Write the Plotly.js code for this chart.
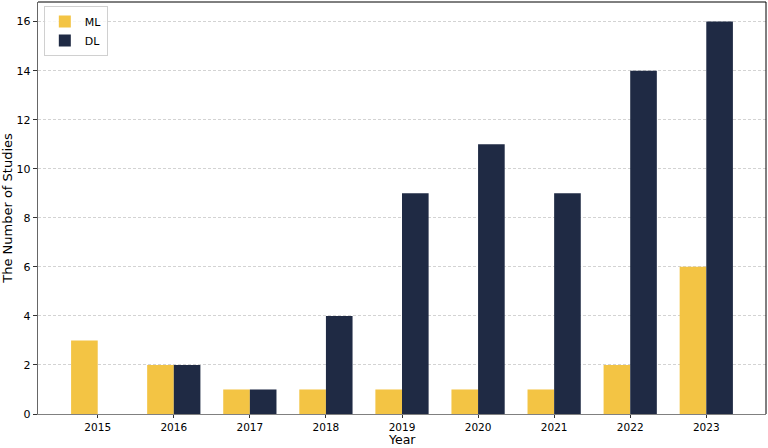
<!DOCTYPE html>
<html>
<head>
<meta charset="utf-8">
<script src="https://cdn.plot.ly/plotly-3.0.1.min.js"></script>
<style>html,body{margin:0;padding:0;background:#fff;}#chart{width:768px;height:448px;}</style>
</head>
<body>
<div id="chart"></div>
<script>
var years = [2015, 2016, 2017, 2018, 2019, 2020, 2021, 2022, 2023];
var mlValues = [3, 2, 1, 1, 1, 1, 1, 2, 6];
var dlValues = [0, 2, 1, 4, 9, 11, 9, 14, 16];
var seriesNames = ['ML', 'DL'];
var yTicks = [0, 2, 4, 6, 8, 10, 12, 14, 16];

var idx = years.map(function(_, i){ return i; });
var w = 0.35;
var traces = [
  {type:'bar', name:seriesNames[0], x: idx.map(function(i){return i - w/2;}), y: mlValues, width: w,
   marker:{color:'#F3C444', line:{width:0}}},
  {type:'bar', name:seriesNames[1], x: idx.map(function(i){return i + w/2;}), y: dlValues, width: w,
   marker:{color:'#1F2A44', line:{width:0}}}
];
var ff = 'DejaVu Sans, sans-serif';
var layout = {
  width:768, height:448,
  margin:{l:38, r:2, t:2, b:34},
  paper_bgcolor:'#fff', plot_bgcolor:'#fff',
  font: {family:ff, size:11, color:'#000'},
  barmode:'overlay',
  showlegend:true,
  legend:{x:0.008, y:0.99, xanchor:'left', yanchor:'top', bgcolor:'rgba(255,255,255,0.8)',
          bordercolor:'#d0d0d0', borderwidth:1, itemwidth:30, tracegroupgap:2,
          font:{family:ff, size:11}},
  xaxis:{
    range:[-0.785, 8.785], tickmode:'array', tickvals: idx, ticktext: years.map(String),
    showgrid:false, zeroline:false, showline:true, linecolor:'#808080', linewidth:1.2,
    ticks:'outside', ticklen:3, tickcolor:'#333', tickfont:{family:ff, size:10.5}
  },
  yaxis:{
    range:[0, 16.8], tickmode:'array', tickvals: yTicks,
    showgrid:true, gridcolor:'#c8c8c8', griddash:'3px,2px', gridwidth:0.8, zeroline:false,
    showline:true, linecolor:'#666', linewidth:1.2,
    ticks:'outside', ticklen:4, tickcolor:'#333',
    title:{text:'The Number of Studies', font:{family:ff, size:13}, standoff:6}
  },
  annotations:[
    {text:'Year', xref:'paper', yref:'paper', x:0.5, y:-34/412, xanchor:'center', yanchor:'bottom',
     showarrow:false, font:{family:ff, size:12.5, color:'#000'}, borderpad:0}
  ],
  shapes:[
    {type:'line', xref:'paper', yref:'paper', x0:0, x1:1, y0:1, y1:1, line:{color:'#000', width:1}},
    {type:'line', xref:'paper', yref:'paper', x0:1, x1:1, y0:0, y1:1, line:{color:'#000', width:1}}
  ]
};
Plotly.newPlot('chart', traces, layout, {displayModeBar:false, staticPlot:true});
</script>
</body>
</html>
